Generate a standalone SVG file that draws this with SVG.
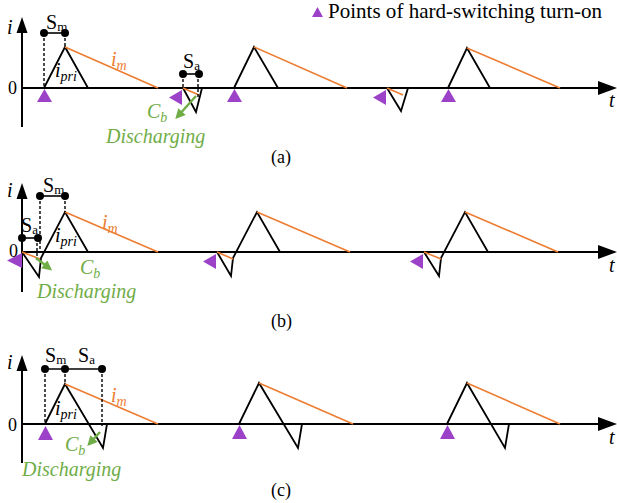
<svg xmlns="http://www.w3.org/2000/svg" width="617" height="503" viewBox="0 0 617 503" font-family="'Liberation Serif', 'Times New Roman', serif">
<style>
text{font-family:"Liberation Serif","Times New Roman",serif;fill:#000}
.it{font-style:italic}
.s20{font-size:20px}
.s21{font-size:21px}
.s18{font-size:18px}
.sub{font-size:14px}
.sub2{font-size:13px}
.or{fill:#ED7D31}
.gr{fill:#70AD47}
.axis{stroke:#000;stroke-width:2;fill:none}
.wave{stroke:#000;stroke-width:1.8;fill:none;stroke-linejoin:miter}
.im{stroke:#ED7D31;stroke-width:1.6;fill:none}
.dash{stroke:#000;stroke-width:1.4;stroke-dasharray:3 2;fill:none}
.sw{stroke:#000;stroke-width:1.6;fill:none}
.dot{fill:#000}
.hs{fill:#9C42C9}
.gar{stroke:#70AD47;stroke-width:2.4;fill:none}
.garh{fill:#70AD47}
</style>
<defs>
<marker id="ga" viewBox="0 0 10 10" refX="6" refY="5" markerWidth="11" markerHeight="10" orient="auto" markerUnits="userSpaceOnUse">
<path d="M0,0 L10,5 L0,10 z" class="garh"/>
</marker>
</defs>

<g id="legend">
<polygon class="hs" points="312,17 317.5,7 323,17"/>
<text x="328" y="18" class="s21" textLength="274" lengthAdjust="spacingAndGlyphs">Points of hard-switching turn-on</text>
</g>

<!-- Panel (a) -->
<g id="panel-a">
<g id="axes-a">
<line class="axis" x1="22" y1="127" x2="22" y2="32"/>
<polygon points="16.5,33 22,17 27.5,33" class="dot"/>
<line class="axis" x1="22" y1="88" x2="600" y2="88"/>
<polygon points="598,81 617,88 598,95" class="dot"/>
<text x="7" y="34" class="s20 it">i</text>
<text x="8" y="94" class="s18">0</text>
<text x="609" y="107" class="s20 it">t</text>
</g>
<g id="waves-a">
<polyline class="wave" points="44,88 65,47 88,88"/>
<line class="im" x1="65" y1="47" x2="158" y2="88"/>
<polyline class="wave" points="183,88 196,112 202,88"/>
<line class="im" x1="183" y1="88" x2="199" y2="95"/>
<polyline class="wave" points="234,88 254,47 278,88"/>
<line class="im" x1="254" y1="47" x2="347" y2="88"/>
<polyline class="wave" points="387,88 401,111 408,88"/>
<line class="im" x1="387" y1="88" x2="403" y2="95"/>
<polyline class="wave" points="448,88 467,48 490,88"/>
<line class="im" x1="467" y1="48" x2="560" y2="88"/>
</g>
<g id="switches-a">
<line class="sw" x1="44" y1="33" x2="65" y2="33"/>
<circle class="dot" cx="44" cy="33" r="4"/>
<circle class="dot" cx="65" cy="33" r="4"/>
<line class="dash" x1="44" y1="33" x2="44" y2="88"/>
<line class="dash" x1="65" y1="33" x2="65" y2="47"/>
<text x="46" y="29" class="s20">S<tspan class="sub2" dy="2">m</tspan></text>
<line class="sw" x1="183" y1="74" x2="199" y2="74"/>
<circle class="dot" cx="183" cy="74" r="4"/>
<circle class="dot" cx="199" cy="74" r="4"/>
<line class="dash" x1="183" y1="74" x2="183" y2="88"/>
<line class="dash" x1="198" y1="74" x2="198" y2="99"/>
<text x="183" y="68" class="s20">S<tspan class="sub2" dy="2">a</tspan></text>
</g>
<g id="labels-a">
<text x="111" y="66" class="s20 it or">i<tspan class="sub" dy="4">m</tspan></text>
<text x="55" y="77" class="s20 it">i<tspan class="sub" dy="4">pri</tspan></text>
<line class="gar" x1="196" y1="96" x2="178" y2="116" marker-end="url(#ga)"/>
<text x="147" y="118" class="s20 it gr">C<tspan class="sub" dy="4">b</tspan></text>
<text x="106" y="143" class="s20 it gr">Discharging</text>
</g>
<g id="marks-a">
<polygon class="hs" points="37,102 44.5,89 52,102"/>
<polygon class="hs" points="227,102 234.5,89 242,102"/>
<polygon class="hs" points="441,102 448.5,89 456,102"/>
<polygon class="hs" points="182,90 182,105 169,97.5"/>
<polygon class="hs" points="386,90 386,105 373,97.5"/>
</g>
<text x="271" y="163" class="s18">(a)</text>
</g>

<!-- Panel (b) -->
<g id="panel-b">
<g id="axes-b">
<line class="axis" x1="22" y1="292" x2="22" y2="198"/>
<polygon points="16.5,199 22,183 27.5,199" class="dot"/>
<line class="axis" x1="22" y1="252" x2="600" y2="252"/>
<polygon points="598,245 617,252 598,259" class="dot"/>
<text x="7" y="197" class="s20 it">i</text>
<text x="9" y="257" class="s18">0</text>
<text x="609" y="272" class="s20 it">t</text>
</g>
<g id="waves-b">
<polyline class="wave" points="22,252 39,277 41,258 65,212 88,252"/>
<line class="im" x1="65" y1="212" x2="158" y2="252"/>
<line class="im" x1="22" y1="252" x2="40" y2="259"/>
<polyline class="wave" points="217,252 231,276 233,258 257,212 280,252"/>
<line class="im" x1="257" y1="212" x2="350" y2="252"/>
<line class="im" x1="217" y1="252" x2="233" y2="259"/>
<polyline class="wave" points="424,252 439,276 441,258 465,212 488,252"/>
<line class="im" x1="465" y1="212" x2="558" y2="252"/>
<line class="im" x1="424" y1="252" x2="441" y2="259"/>
</g>
<g id="switches-b">
<line class="sw" x1="40" y1="196" x2="65" y2="196"/>
<circle class="dot" cx="40" cy="196" r="4"/>
<circle class="dot" cx="65" cy="196" r="4"/>
<line class="dash" x1="40" y1="196" x2="40" y2="252"/>
<line class="dash" x1="65" y1="196" x2="65" y2="212"/>
<text x="43" y="192" class="s20">S<tspan class="sub2" dy="2">m</tspan></text>
<line class="sw" x1="22" y1="238" x2="38" y2="238"/>
<circle class="dot" cx="22" cy="238" r="4"/>
<circle class="dot" cx="38" cy="238" r="4"/>
<line class="dash" x1="37" y1="238" x2="37" y2="260"/>
<text x="21" y="232" class="s20">S<tspan class="sub2" dy="2">a</tspan></text>
</g>
<g id="labels-b">
<text x="102" y="229" class="s20 it or">i<tspan class="sub" dy="4">m</tspan></text>
<text x="55" y="242" class="s20 it">i<tspan class="sub" dy="4">pri</tspan></text>
<line class="gar" x1="36" y1="258" x2="49" y2="268" marker-end="url(#ga)"/>
<text x="80" y="274" class="s20 it gr">C<tspan class="sub" dy="4">b</tspan></text>
<text x="37" y="298" class="s20 it gr">Discharging</text>
</g>
<g id="marks-b">
<polygon class="hs" points="22,253 22,268 7,260.5"/>
<polygon class="hs" points="216,254 216,269 203,261.5"/>
<polygon class="hs" points="423,254 423,269 410,261.5"/>
</g>
<text x="271" y="327" class="s18">(b)</text>
</g>

<!-- Panel (c) -->
<g id="panel-c">
<g id="axes-c">
<line class="axis" x1="22" y1="463" x2="22" y2="370"/>
<polygon points="16.5,371 22,355 27.5,371" class="dot"/>
<line class="axis" x1="22" y1="424" x2="600" y2="424"/>
<polygon points="598,417 617,424 598,431" class="dot"/>
<text x="7" y="369" class="s20 it">i</text>
<text x="8" y="431" class="s18">0</text>
<text x="609" y="444" class="s20 it">t</text>
</g>
<g id="waves-c">
<polyline class="wave" points="45,424 65,384 103,448 107,424"/>
<line class="im" x1="65" y1="384" x2="158" y2="424"/>
<polyline class="wave" points="239,424 259,383 298,448 302,424"/>
<line class="im" x1="259" y1="383" x2="353" y2="424"/>
<polyline class="wave" points="447,424 467,383 505,448 509,424"/>
<line class="im" x1="467" y1="383" x2="560" y2="424"/>
</g>
<g id="switches-c">
<line class="sw" x1="45" y1="369" x2="102" y2="369"/>
<circle class="dot" cx="45" cy="369" r="4"/>
<circle class="dot" cx="65" cy="369" r="4"/>
<circle class="dot" cx="102" cy="369" r="4"/>
<line class="dash" x1="45" y1="369" x2="45" y2="424"/>
<line class="dash" x1="65" y1="369" x2="65" y2="384"/>
<line class="dash" x1="102" y1="369" x2="102" y2="426"/>
<text x="45" y="362" class="s20">S<tspan class="sub2" dy="2">m</tspan></text>
<text x="78" y="362" class="s20">S<tspan class="sub2" dy="2">a</tspan></text>
</g>
<g id="labels-c">
<text x="111" y="402" class="s20 it or">i<tspan class="sub" dy="4">m</tspan></text>
<text x="55" y="415" class="s20 it">i<tspan class="sub" dy="4">pri</tspan></text>
<line class="gar" x1="100" y1="432" x2="90" y2="443" marker-end="url(#ga)"/>
<text x="65" y="451" class="s20 it gr">C<tspan class="sub" dy="4">b</tspan></text>
<text x="22" y="476" class="s20 it gr">Discharging</text>
</g>
<g id="marks-c">
<polygon class="hs" points="38,440 45.5,426 53,440"/>
<polygon class="hs" points="232,439 239.5,425 247,439"/>
<polygon class="hs" points="440,439 447.5,425 455,439"/>
</g>
<text x="271" y="496" class="s18">(c)</text>
</g>
</svg>
